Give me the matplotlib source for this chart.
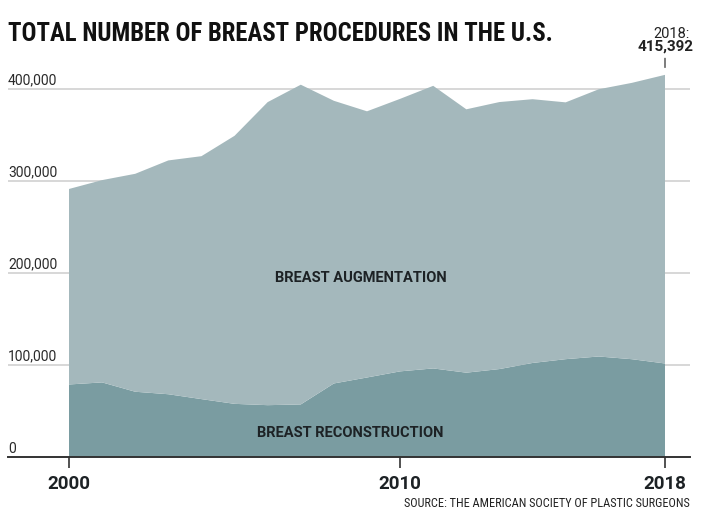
import matplotlib
matplotlib.use("Agg")
import matplotlib.pyplot as plt
from matplotlib import font_manager as fm

years = list(range(2000, 2019))
reconstruction = [78832, 81089, 70937, 68225, 62930, 57778, 56337, 57143, 79942, 86424,
                  93083, 96277, 91655, 95589, 102215, 106338, 109256, 106295, 101657]
augmentation = [212500, 219883, 236888, 254140, 264041, 291350, 329396, 347524, 307230, 289328,
                296203, 307180, 286274, 290224, 286694, 279143, 290467, 300378, 313735]
yticks = [0, 100000, 200000, 300000, 400000]
ytick_labels = ["0", "100,000", "200,000", "300,000", "400,000"]
xticks = [2000, 2010, 2018]
xtick_labels = ["2000", "2010", "2018"]
title = "TOTAL NUMBER OF BREAST PROCEDURES IN THE U.S."
source = "SOURCE: THE AMERICAN SOCIETY OF PLASTIC SURGEONS"

names = {f.name for f in fm.fontManager.ttflist}
narrow = None
for cand in ["Roboto Condensed", "Liberation Sans Narrow", "DejaVu Sans Condensed"]:
    if cand in names:
        narrow = cand
        break
main = "Roboto" if "Roboto" in names else "DejaVu Sans"
if narrow is None:
    narrow = main

W, H = 701, 528
fig = plt.figure(figsize=(W / 100, H / 100), dpi=100)
fig.patch.set_facecolor("white")

def fx(px):
    return px / W

def fy(py):
    return 1 - py / H

ax = fig.add_axes([fx(8), fy(457), fx(690) - fx(8), fy(60) - fy(457)])
per_year = (665 - 69) / 18.0
ax.set_xlim(2000 - (69 - 8) / per_year, 2018 + (690 - 665) / per_year)
px_per_100k = (457 - 89) / 4.0
ax.set_ylim(0, (457 - 60) / px_per_100k * 100000)

LIGHT = "#a4b8bc"
DARK = "#7a9ca1"
TXT = "#1d2225"

ax.stackplot(years, reconstruction, augmentation, colors=[DARK, LIGHT], linewidth=0, zorder=2)

for v in yticks[1:]:
    ax.axhline(v, color="#d4d4d4", linewidth=1.3, zorder=1)
for v, lab in zip(yticks, ytick_labels):
    ax.text(0, v + 1500, lab, transform=ax.get_yaxis_transform(), ha="left", va="bottom",
            fontsize=10, color="#2a2a2a", family=main, fontweight="normal")

for s in ["top", "right", "left"]:
    ax.spines[s].set_visible(False)
ax.spines["bottom"].set_color("#333333")
ax.spines["bottom"].set_linewidth(1.4)
ax.spines["bottom"].set_zorder(3)
ax.set_yticks([])
ax.set_xticks(xticks)
ax.set_xticklabels(xtick_labels, fontsize=13.5, fontweight="bold", family=main, color=TXT)
ax.tick_params(axis="x", length=8, width=1.2, color="#333333", pad=5)

total = [r + a for r, a in zip(reconstruction, augmentation)]
ax.text(2008.8, 195000, "BREAST AUGMENTATION", ha="center", va="center", fontsize=10.5,
        fontweight="bold", family=main, color=TXT, zorder=4)
ax.text(2008.5, 26000, "BREAST RECONSTRUCTION", ha="center", va="center", fontsize=10.5,
        fontweight="bold", family=main, color=TXT, zorder=4)

# 2018 annotation
ax.annotate("", xy=(years[-1], total[-1] + 5000), xytext=(years[-1], total[-1] + 21000),
            arrowprops=dict(arrowstyle="-", color="#333333", lw=0.9), annotation_clip=False)
fig.text(fx(690), fy(38), "2018:", ha="right", va="baseline", fontsize=10.5,
         family=main, fontweight="normal", color="#222222")
fig.text(fx(694), fy(51), f"{total[-1]:,}", ha="right", va="baseline", fontsize=11,
         family=main, fontweight="bold", color="#222222")

t = fig.text(fx(8), fy(41), title, ha="left", va="baseline", fontsize=17,
             family=narrow, fontweight="heavy", color="#111111")
src = fig.text(fx(690), fy(507), source, ha="right", va="baseline", fontsize=9.5,
               family=narrow, color="#222222")

# fit condensed text widths to layout
fig.canvas.draw()
r = fig.canvas.get_renderer()
for obj, target in [(t, 548), (src, 287)]:
    w = obj.get_window_extent(r).width
    obj.set_fontsize(obj.get_fontsize() * target / w)

fig.savefig("out.png", dpi=100)
